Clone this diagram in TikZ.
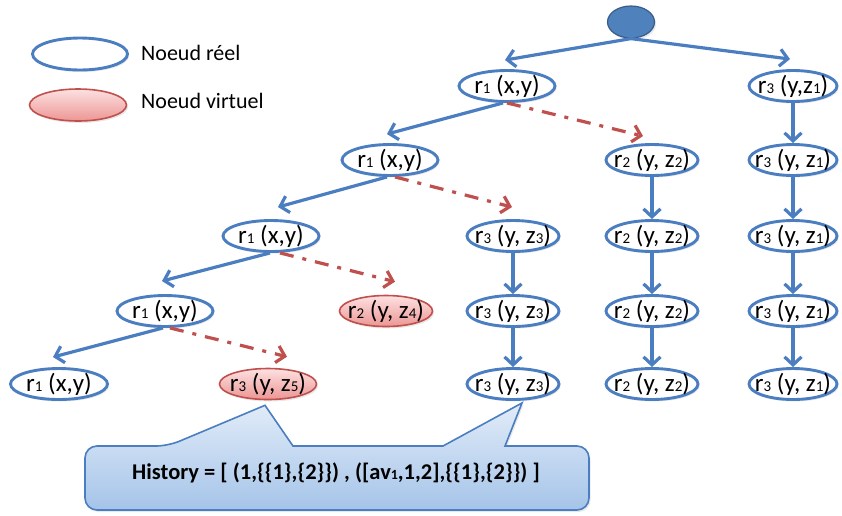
\documentclass[tikz,border=0pt]{standalone}
\usepackage{fontspec}
\setmainfont{Carlito}
\usetikzlibrary{arrows.meta,shapes.geometric,calc,shadows}
\definecolor{nblue}{RGB}{74,126,193}
\definecolor{nred}{RGB}{192,80,77}
\definecolor{rootfill}{RGB}{79,129,189}
\definecolor{rootdraw}{RGB}{56,93,138}
\definecolor{pinktop}{RGB}{252,225,225}
\definecolor{pinkbot}{RGB}{236,150,148}
\definecolor{calltop}{RGB}{226,236,248}
\definecolor{callbot}{RGB}{165,196,233}
\newcommand\lowdig[1]{{\fontsize{15}{15}\selectfont #1}}
\newcommand\histdig[1]{{\fontsize{14}{14}\selectfont #1}}
\newcommand\nt[1]{\makebox[0pt][c]{\smash{\raisebox{-7pt}{#1}}}}
\begin{document}
\begin{tikzpicture}[x=1pt,y=-1pt,
  softshadow/.style={drop shadow={opacity=0.18, shadow xshift=1.5pt, shadow yshift=-2pt}},
  real/.style={ellipse, draw=nblue, line width=2.9pt, fill=white, softshadow, minimum height=31pt, inner sep=0pt, font=\fontsize{25}{27}\selectfont},
  virt/.style={ellipse, draw=nred, line width=1.6pt, top color=pinktop, bottom color=pinkbot, softshadow, minimum height=31pt, inner sep=0pt, font=\fontsize{25}{27}\selectfont},
  legtext/.style={anchor=west, font=\fontsize{22}{24}\selectfont, inner sep=0pt},
  blueedge/.style={draw=nblue, line width=3.2pt, -{Straight Barb[length=8pt,width=17pt]}},
  rededge/.style={draw=nred, line width=3.2pt, dash pattern=on 14pt off 9pt on 4pt off 9pt, -{Straight Barb[length=8pt,width=17pt]}},
  callout/.style={draw=nblue, line width=1.6pt, top color=calltop, bottom color=callbot, softshadow}
]
\useasboundingbox (0,0) rectangle (842,515);

% legend
\node[real, minimum width=95pt, minimum height=32pt] (lr) at (80,54) {};
\node[legtext] (lrt) at (141,53) {Noeud réel};
\node[virt, minimum width=97pt, minimum height=32pt] (lv) at (78,105) {};
\node[legtext] (lvt) at (141,101) {Noeud virtuel};

% root
\node[ellipse, draw=rootdraw, line width=1.2pt, fill=rootfill, softshadow, minimum width=47pt, minimum height=32pt, inner sep=0pt] (root) at (631,22) {};

% level 1
\node[real, minimum width=96pt] (A1) at (507,86) {\nt{r\lowdig{1} (x,y)}};
\node[real, minimum width=88pt] (R1) at (793,86) {\nt{r\lowdig{3} (y,z\lowdig{1})}};
% level 2
\node[real, minimum width=96pt] (A2) at (390,160) {\nt{r\lowdig{1} (x,y)}};
\node[real, minimum width=92pt] (B2) at (652,160) {\nt{r\lowdig{2} (y, z\lowdig{2})}};
\node[real, minimum width=88pt] (R2) at (793,160) {\nt{r\lowdig{3} (y, z\lowdig{1})}};
% level 3
\node[real, minimum width=96pt] (A3) at (271,236) {\nt{r\lowdig{1} (x,y)}};
\node[real, minimum width=92pt] (C3) at (513,236) {\nt{r\lowdig{3} (y, z\lowdig{3})}};
\node[real, minimum width=92pt] (B3) at (652,236) {\nt{r\lowdig{2} (y, z\lowdig{2})}};
\node[real, minimum width=88pt] (R3) at (793,236) {\nt{r\lowdig{3} (y, z\lowdig{1})}};
% level 4
\node[real, minimum width=96pt] (A4) at (165,311) {\nt{r\lowdig{1} (x,y)}};
\node[virt, minimum width=93pt] (V4) at (386,311) {\nt{r\lowdig{2} (y, z\lowdig{4})}};
\node[real, minimum width=92pt] (C4) at (513,311) {\nt{r\lowdig{3} (y, z\lowdig{3})}};
\node[real, minimum width=92pt] (B4) at (652,311) {\nt{r\lowdig{2} (y, z\lowdig{2})}};
\node[real, minimum width=88pt] (R4) at (793,311) {\nt{r\lowdig{3} (y, z\lowdig{1})}};
% level 5
\node[real, minimum width=97pt] (A5) at (59,384) {\nt{r\lowdig{1} (x,y)}};
\node[virt, minimum width=97pt] (V5) at (268,384) {\nt{r\lowdig{3} (y, z\lowdig{5})}};
\node[real, minimum width=92pt] (C5) at (513,384) {\nt{r\lowdig{3} (y, z\lowdig{3})}};
\node[real, minimum width=92pt] (B5) at (652,384) {\nt{r\lowdig{2} (y, z\lowdig{2})}};
\node[real, minimum width=88pt] (R5) at (793,384) {\nt{r\lowdig{3} (y, z\lowdig{1})}};

% root edges
\draw[blueedge] (root.south) -- ([xshift=-2pt,yshift=9pt]A1.north);
\draw[blueedge] (root.south) -- ([xshift=-3pt,yshift=10pt]R1.north);

% left diagonal blue edges
\draw[blueedge] ([xshift=-4pt]A1.south) -- ([xshift=-3pt,yshift=9pt]A2.north);
\draw[blueedge] ([xshift=-3pt]A2.south) -- ([xshift=7pt,yshift=12pt]A3.north);
\draw[blueedge] ([xshift=-1pt]A3.south) -- ([xshift=-3pt,yshift=13pt]A4.north);
\draw[blueedge] ([xshift=-2pt]A4.south) -- ([xshift=-6pt,yshift=10pt]A5.north);

% red virtual edges
\draw[rededge] ([xshift=0pt]A1.south) -- ([xshift=-9pt,yshift=7pt]B2.north);
\draw[rededge] ([xshift=5pt]A2.south) -- ([xshift=-1pt,yshift=12pt]C3.north);
\draw[rededge] ([xshift=9pt]A3.south) -- ([xshift=9pt,yshift=13pt]V4.north);
\draw[rededge] ([xshift=5pt]A4.south) -- ([xshift=19pt,yshift=11pt]V5.north);

% vertical chains
\draw[blueedge] (R1) -- (R2);
\draw[blueedge] (R2) -- (R3);
\draw[blueedge] (R3) -- (R4);
\draw[blueedge] (R4) -- (R5);
\draw[blueedge] (B2) -- (B3);
\draw[blueedge] (B3) -- (B4);
\draw[blueedge] (B4) -- (B5);
\draw[blueedge] (C3) -- (C4);
\draw[blueedge] (C4) -- (C5);

% callout
\coordinate (tipL) at ($(V5.south)+(-3,5)$);
\coordinate (tipR) at ($(C5.south)+(9,2)$);
\path[callout, rounded corners=12pt]
  (85,478) -- (85,446) -- (168,446) [sharp corners] -- (tipL) -- (293,446) -- (443,446) -- (tipR) -- (505,446)
  [rounded corners=12pt] -- (589,446) -- (589,510) -- (85,510) -- cycle;
\node[font=\fontsize{22.5}{24}\selectfont\bfseries, inner sep=0pt] (hist) at (336,473)
  {History = [ (1,\{\{1\},\{2\}\}) , ([av\histdig{1},1,2],\{\{1\},\{2\}\}) ]};
\end{tikzpicture}
\end{document}
